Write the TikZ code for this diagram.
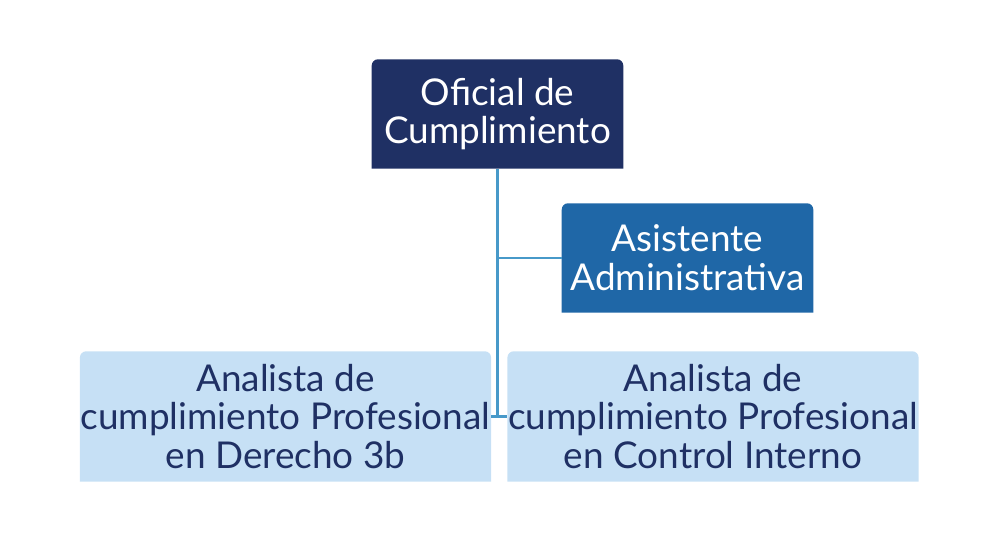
\documentclass[tikz,border=0pt]{standalone}
\usepackage{fontspec}
\setmainfont{Lato}
\usetikzlibrary{positioning,backgrounds}
\definecolor{navyBox}{HTML}{1F3064}
\definecolor{midBox}{HTML}{1F67A7}
\definecolor{paleBox}{HTML}{C6E0F5}
\definecolor{linkLine}{HTML}{4799C9}
\tikzset{
	box/.style={minimum width=2.5cm, minimum height=1.08cm, inner sep=0pt, align=center, font=\fontsize{10.5}{11}\selectfont},
	wide box/.style={box, minimum width=3.65cm, minimum height=1.29cm},
	link/.style={draw=linkLine, line width=0.85pt}
}
\newcommand{\topround}[2]{\fill[#2] (#1.south west) [rounded corners=1.8pt] -- (#1.north west) -- (#1.north east) [sharp corners] -- (#1.south east) -- cycle;}
\begin{document}
\begin{tikzpicture}[x=0.01cm, y=-0.01cm]
	\useasboundingbox (0,0) rectangle (1000,546);
	
	\node[box, text=white] (oficial) at (497.5,114) {Oficial de\\Cumplimiento};
	\node[box, text=white] (asist) at (687.5,258) {Asistente\\Administrativa};
	\node[wide box, text=navyBox] (derecho) at (285.5,416.5) {Analista de\\cumplimiento Profesional\\en Derecho 3b};
	\node[wide box, text=navyBox] (control) at (713,416.5) {Analista de\\cumplimiento Profesional\\en Control Interno};
	
	\begin{scope}[on background layer]
		\topround{oficial}{navyBox}
		\topround{asist}{midBox}
		\topround{derecho}{paleBox}
		\topround{control}{paleBox}
	\end{scope}
	
	\coordinate (junc) at (oficial.south |- derecho.east);
	\draw[link] (oficial.south) -- (junc);
	\draw[link] (oficial.south |- asist.west) -- (asist.west);
	\draw[link] (derecho.east |- junc) -- (control.west |- junc);
\end{tikzpicture}
\end{document}
